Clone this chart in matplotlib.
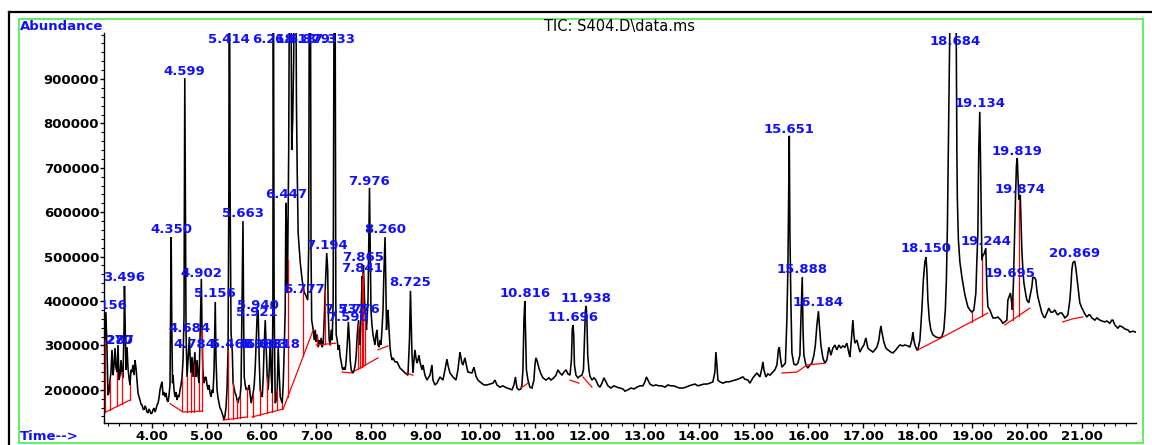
import numpy as np
import matplotlib
matplotlib.use("Agg")
import matplotlib.pyplot as plt
from matplotlib.patches import Rectangle
from matplotlib.lines import Line2D
from matplotlib.ticker import FixedLocator, FuncFormatter

plt.rcParams['font.family'] = ['DejaVu Sans']

# ---------------- data: TIC trace (retention time in min, abundance in thousands) ----------------
rt_min = [
    3.122, 3.140, 3.156, 3.177, 3.195, 3.214, 3.232, 3.250, 3.268, 3.287,
    3.305, 3.323, 3.341, 3.360, 3.378, 3.396, 3.415, 3.433, 3.451, 3.469,
    3.488, 3.496, 3.515, 3.524, 3.543, 3.561, 3.579, 3.597, 3.616, 3.634,
    3.652, 3.671, 3.689, 3.707, 3.725, 3.744, 3.762, 3.780, 3.798, 3.817,
    3.835, 3.853, 3.872, 3.890, 3.908, 3.926, 3.945, 3.963, 3.981, 4.000,
    4.018,
    4.037, 4.055, 4.073, 4.092, 4.110, 4.128, 4.146, 4.165, 4.183, 4.201,
    4.219, 4.238, 4.256, 4.274, 4.293, 4.311, 4.329, 4.340, 4.350, 4.362,
    4.375, 4.384, 4.402, 4.421, 4.439, 4.457, 4.475, 4.494, 4.512, 4.530,
    4.549, 4.567, 4.585, 4.599, 4.614, 4.622, 4.640, 4.658, 4.684, 4.695,
    4.713, 4.731, 4.750, 4.784, 4.795, 4.804, 4.823, 4.841, 4.859, 4.877,
    4.902, 4.914, 4.929, 4.951, 4.969, 4.987, 5.006, 5.024, 5.042, 5.060,
    5.079, 5.097, 5.115, 5.134, 5.156, 5.170, 5.189, 5.207, 5.225, 5.243,
    5.262, 5.280, 5.298, 5.317, 5.335, 5.353, 5.371, 5.390, 5.404, 5.414,
    5.428, 5.445, 5.468, 5.482, 5.500, 5.518, 5.536, 5.555, 5.573, 5.591,
    5.609, 5.628, 5.646, 5.663, 5.677, 5.686, 5.704, 5.723, 5.741, 5.759,
    5.777, 5.795,
    5.813, 5.832, 5.850, 5.868, 5.887, 5.905, 5.921, 5.940, 5.960, 5.978,
    5.996, 6.015, 6.033, 6.051, 6.070, 6.088, 6.106, 6.124, 6.143, 6.161,
    6.179, 6.198, 6.210, 6.218, 6.232, 6.252, 6.271, 6.289, 6.307, 6.326,
    6.344, 6.362, 6.380, 6.399, 6.417, 6.435, 6.447, 6.462, 6.471, 6.481,
    6.499, 6.517, 6.535, 6.554, 6.572, 6.590, 6.605, 6.625, 6.640, 6.654,
    6.672, 6.709, 6.745, 6.782, 6.818, 6.846, 6.864, 6.879, 6.895, 6.907,
    6.919, 6.947, 6.965, 6.984, 7.002, 7.020, 7.038, 7.057, 7.075, 7.093,
    7.112, 7.130, 7.148, 7.166, 7.185, 7.194, 7.212, 7.221, 7.239, 7.258,
    7.276, 7.294, 7.312, 7.333, 7.345, 7.360, 7.367, 7.386, 7.404, 7.422,
    7.441, 7.459, 7.477, 7.495, 7.514, 7.532, 7.550, 7.569, 7.590, 7.614,
    7.623, 7.642, 7.660, 7.678, 7.697, 7.715, 7.733, 7.752, 7.776, 7.788,
    7.806, 7.825, 7.841, 7.852, 7.865, 7.885, 7.903, 7.921, 7.949, 7.963,
    7.976, 7.990, 8.003, 8.021, 8.040, 8.058, 8.076, 8.095, 8.113, 8.131,
    8.150, 8.168, 8.186, 8.204, 8.223, 8.241, 8.260, 8.274, 8.287, 8.296,
    8.314, 8.333, 8.351, 8.369, 8.387, 8.406, 8.442, 8.479, 8.534,
    8.570, 8.625, 8.679, 8.707, 8.725, 8.743, 8.752, 8.771, 8.789, 8.807,
    8.826, 8.844, 8.862, 8.880, 8.899, 8.935, 8.954, 8.990, 9.027, 9.081,
    9.118, 9.136, 9.173, 9.209, 9.264, 9.319, 9.356, 9.392, 9.410, 9.447,
    9.502, 9.557, 9.593, 9.630, 9.667, 9.685, 9.721, 9.758, 9.776, 9.849,
    9.886, 9.922, 9.959, 9.995, 10.068, 10.123, 10.178, 10.233, 10.270, 10.306,
    10.361, 10.416, 10.489, 10.544, 10.580, 10.617, 10.644, 10.672, 10.708, 10.745,
    10.763, 10.781, 10.800, 10.816, 10.829, 10.845, 10.873, 10.909, 10.946, 10.982,
    11.001, 11.019, 11.037, 11.074, 11.110, 11.147, 11.202, 11.257, 11.293, 11.348,
    11.385, 11.421, 11.458, 11.495, 11.531, 11.568, 11.604, 11.641, 11.668, 11.683,
    11.696, 11.710, 11.723, 11.751, 11.787, 11.824, 11.861, 11.888, 11.912, 11.924,
    11.938, 11.951, 11.966, 11.988, 12.006, 12.043, 12.080, 12.116, 12.153, 12.189,
    12.226, 12.262, 12.299, 12.336, 12.390, 12.445, 12.500, 12.555, 12.610, 12.646,
    12.701, 12.756, 12.811, 12.865, 12.920, 12.975, 13.012, 13.039, 13.067, 13.103,
    13.158, 13.213, 13.268, 13.323, 13.377, 13.432, 13.487, 13.542, 13.597, 13.651,
    13.706, 13.761, 13.816, 13.871, 13.926, 13.980, 14.035, 14.090, 14.145, 14.200,
    14.254, 14.291, 14.309, 14.328, 14.346, 14.383, 14.437, 14.492, 14.547, 14.602,
    14.657, 14.712, 14.766, 14.803, 14.840, 14.894, 14.931,
    14.986, 15.059, 15.114, 15.151, 15.169, 15.187, 15.224, 15.260, 15.297, 15.351,
    15.388, 15.425, 15.452, 15.470, 15.489, 15.516, 15.553, 15.580, 15.607, 15.626,
    15.651, 15.662, 15.680, 15.699, 15.735, 15.772, 15.808, 15.845, 15.863, 15.888,
    15.902, 15.918, 15.955, 15.991, 16.028, 16.064, 16.101, 16.128, 16.156, 16.184,
    16.201, 16.229, 16.265, 16.302, 16.338, 16.375, 16.412, 16.448, 16.485, 16.521,
    16.558, 16.594, 16.631, 16.668, 16.704, 16.741, 16.759, 16.786, 16.814, 16.832,
    16.850, 16.887, 16.924, 16.942, 16.978, 17.015, 17.051, 17.088, 17.125, 17.179,
    17.216, 17.253, 17.289, 17.307, 17.326, 17.344, 17.380, 17.417, 17.454, 17.508,
    17.545, 17.600, 17.636, 17.673, 17.728, 17.764, 17.819, 17.856, 17.892, 17.911,
    17.929, 17.947, 17.984, 18.002, 18.039, 18.057, 18.075, 18.102, 18.130, 18.150,
    18.166, 18.185, 18.212, 18.239, 18.276, 18.331, 18.386, 18.441, 18.477, 18.504,
    18.523, 18.541, 18.559, 18.578, 18.600, 18.684, 18.706, 18.715, 18.724, 18.743,
    18.770, 18.807, 18.861, 18.916, 18.953, 18.989, 19.026, 19.062, 19.081, 19.099,
    19.115, 19.134, 19.150, 19.172, 19.190, 19.209, 19.244, 19.263, 19.282, 19.318,
    19.373, 19.428, 19.464, 19.519, 19.556, 19.592, 19.629, 19.647, 19.695, 19.712,
    19.731, 19.749, 19.767, 19.786, 19.804, 19.819, 19.830, 19.848, 19.874, 19.885,
    19.903, 19.922, 19.940, 19.976, 19.995, 20.031, 20.049, 20.086, 20.104, 20.141,
    20.159, 20.177, 20.196, 20.232, 20.269, 20.305, 20.324, 20.360, 20.397, 20.433,
    20.470, 20.506, 20.543, 20.561, 20.598, 20.634, 20.671, 20.689, 20.726, 20.744,
    20.781, 20.799, 20.817, 20.835, 20.869, 20.890, 20.909, 20.945, 20.963, 21.000,
    21.018, 21.055, 21.091, 21.128, 21.146, 21.183, 21.238, 21.274, 21.329, 21.366,
    21.420, 21.457, 21.512, 21.548, 21.567, 21.603, 21.658, 21.695, 21.749, 21.786,
    21.841, 21.877, 21.932, 21.987,
]

abundance_k = [
    188, 312, 375, 290, 188, 195, 222, 240, 290, 233,
    256, 294, 249, 240, 301, 222, 233, 267, 240, 227,
    335, 434, 312, 245, 296, 249, 227, 211, 245, 240,
    256, 233, 267, 249, 222, 193, 184, 177, 168, 166,
    157, 155, 164, 159, 150, 148, 157, 152, 146, 148,
    155,
    159, 150, 157, 166, 170, 182, 200, 211, 218, 188,
    195, 184, 193, 177, 173, 188, 211, 402, 544, 335,
    215, 233, 200, 184, 195, 177, 188, 184, 200, 211,
    229, 267, 364, 902, 515, 328, 229, 267, 319, 278,
    238, 274, 229, 285, 245, 229, 267, 233, 215, 312,
    450, 335, 245, 215, 227, 229, 211, 200, 211, 193,
    184, 200, 193, 245, 398, 267, 200, 182, 170, 159,
    155, 148, 141, 132, 143, 161, 200, 290, 628, 1300,
    628, 328, 285, 215, 204, 193, 188, 177, 170, 182,
    184, 211, 402, 580, 335, 229, 211, 200, 204, 200,
    211, 188,
    170, 184, 193, 211, 251, 312, 364, 380, 267, 200,
    188, 184, 229, 301, 357, 290, 229, 200, 245, 312,
    233, 193, 402, 1300, 402, 170, 177, 200, 296, 233,
    184, 177, 170, 215, 290, 380, 621, 560, 418, 492,
    740, 1300, 1250, 740, 808, 943, 1300, 1300, 853, 695,
    553, 488, 447, 420, 411, 402, 515, 1300, 1250, 515,
    357, 335, 312, 335, 308, 324, 296, 312, 301, 317,
    296, 305, 357, 425, 481, 508, 470, 380, 312, 301,
    335, 312, 402, 1300, 1250, 402, 324, 312, 290, 301,
    274, 263, 249, 245, 251, 245, 267, 301, 353, 301,
    267, 245, 240, 238, 245, 256, 278, 324, 357, 324,
    301, 380, 456, 425, 481, 402, 357, 335, 402, 537,
    655, 515, 380, 346, 324, 312, 301, 324, 335, 301,
    296, 312, 301, 335, 380, 470, 544, 447, 335, 357,
    380, 335, 296, 278, 267, 272, 263, 263, 249,
    245, 238, 233, 312, 423, 335, 283, 238, 267, 290,
    272, 260, 267, 278, 263, 245, 256, 233, 222, 233,
    256, 222, 211, 215, 229, 222, 245, 269, 256, 238,
    229, 222, 245, 285, 260, 256, 272, 249, 240, 238,
    251, 231, 222, 218, 211, 211, 213, 215, 222, 211,
    206, 209, 204, 202, 200, 211, 229, 204, 200, 202,
    211, 245, 357, 400, 335, 245, 222, 206, 204, 222,
    256, 272, 267, 249, 236, 227, 222, 227, 222, 227,
    233, 245, 238, 233, 240, 245, 236, 233, 267, 335,
    346, 324, 256, 233, 227, 231, 233, 245, 335, 380,
    389, 357, 278, 245, 231, 222, 227, 222, 211, 206,
    215, 227, 218, 209, 204, 209, 206, 204, 202, 197,
    200, 204, 202, 206, 209, 209, 218, 229, 222, 213,
    209, 211, 209, 209, 206, 211, 209, 209, 206, 204,
    204, 206, 209, 211, 213, 209, 211, 213, 213, 215,
    218, 240, 285, 256, 222, 218, 215, 218, 218, 220,
    222, 224, 227, 229, 224, 222, 215,
    227, 238, 229, 249, 263, 245, 229, 236, 233, 240,
    245, 256, 290, 296, 272, 251, 256, 260, 357, 477,
    772, 560, 402, 283, 258, 256, 260, 278, 357, 454,
    335, 278, 256, 249, 256, 260, 278, 301, 346, 377,
    346, 301, 272, 260, 267, 296, 278, 294, 301, 290,
    301, 294, 299, 296, 305, 283, 274, 312, 357, 324,
    305, 312, 294, 285, 294, 301, 317, 294, 290, 285,
    290, 296, 312, 330, 344, 330, 308, 294, 290, 285,
    283, 290, 296, 301, 299, 301, 299, 296, 312, 330,
    312, 301, 290, 290, 312, 346, 380, 447, 488, 499,
    470, 402, 357, 335, 324, 319, 317, 319, 335, 380,
    447, 560, 740, 943, 1150, 1300, 943, 740, 628, 538,
    488, 454, 414, 387, 380, 375, 380, 418, 492, 553,
    740, 826, 695, 492, 503, 505, 519, 430, 387, 380,
    362, 362, 364, 357, 350, 353, 357, 402, 418, 402,
    380, 441, 537, 628, 706, 722, 684, 628, 639, 594,
    515, 470, 441, 414, 402, 396, 409, 432, 454, 452,
    447, 425, 409, 391, 373, 364, 362, 373, 384, 375,
    375, 380, 371, 369, 373, 373, 366, 362, 366, 369,
    402, 432, 470, 486, 490, 474, 454, 414, 396, 384,
    380, 371, 364, 369, 369, 362, 357, 362, 357, 355,
    353, 355, 350, 357, 357, 346, 339, 344, 341, 337,
    335, 330, 332, 330,
]

# integration baselines (red) : retention times and abundances (thousands)
baseline_rt = [
    [3.122, 3.597],
    [4.329, 4.567, 4.914],
    [5.298, 5.741],
    [5.832, 6.399],
    [6.399, 6.947],
    [7.002, 7.355],
    [7.477, 7.660],
    [7.715, 8.131],
    [8.131, 8.314],
    [8.643, 8.771],
    [10.745, 10.873],
    [11.641, 11.806],
    [11.879, 12.043],
    [15.516, 15.790, 15.973, 16.302],
    [18.002, 18.459, 19.282],
    [19.592, 20.049],
    [20.652, 20.835, 21.018],
]
baseline_k = [
    [148, 177],
    [169, 150, 152],
    [132, 139],
    [139, 157],
    [157, 335],
    [301, 305],
    [240, 238],
    [243, 272],
    [290, 299],
    [238, 233],
    [204, 215],
    [222, 215],
    [229, 206],
    [238, 240, 256, 260],
    [290, 319, 373],
    [346, 384],
    [353, 360, 364],
]
# peak-split drop lines (red verticals) at these retention times
drop_rt = [3.140, 3.232, 3.360, 3.451, 3.597, 4.549, 4.640, 4.713, 4.768, 4.859,
           4.914, 5.390, 5.482, 5.555, 5.609, 5.741, 5.850, 5.978, 6.106, 6.198,
           6.289, 6.380, 6.481, 6.764, 7.020, 7.166, 7.258, 7.770, 7.806, 7.843,
           7.861, 7.898, 18.989, 19.172, 19.739, 19.848]

# peak labels (retention time, label height in thousands)
label_rt = [3.156, 3.270, 3.287, 3.496, 4.350, 4.599, 4.684, 4.784, 4.902, 5.156,
            5.414, 5.468, 5.663, 5.921, 5.940, 5.983, 6.083, 6.218, 6.318, 6.447,
            6.618, 6.777, 6.879, 7.194, 7.333, 7.537, 7.590, 7.776, 7.841, 7.865,
            7.976, 8.260, 8.725, 10.816, 11.696, 11.938, 15.651, 15.888, 16.184, 18.150,
            18.684, 19.134, 19.244, 19.695, 19.819, 19.874, 20.869]
label_k = [391, 312, 312, 454, 560, 918, 337, 301, 463, 418,
           988, 301, 596, 375, 391, 301, 301, 988, 301, 639,
           988, 425, 988, 524, 988, 380, 362, 380, 474, 497,
           670, 560, 441, 416, 364, 405, 787, 470, 396, 519,
           985, 844, 533, 463, 736, 652, 508]

y_major = [200000, 300000, 400000, 500000, 600000, 700000, 800000, 900000]
x_major = list(range(4, 22))

assert len(rt_min) == len(abundance_k)
rt = np.array(rt_min)
ab = np.array(abundance_k) * 1000.0

W, H = 1152, 445
fig = plt.figure(figsize=(W / 100, H / 100), dpi=100)
fig.patch.set_facecolor('white')
ax = fig.add_axes([104 / W, (H - 423) / H, (1136 - 104) / W, (423 - 33) / H])
ax.set_facecolor('none')

ax.plot(rt, ab, color='black', lw=1.15, solid_joinstyle='miter')

red = '#ff0000'
for brt, bk in zip(baseline_rt, baseline_k):
    ax.plot(brt, np.array(bk) * 1000.0, color=red, lw=0.9)
for t in drop_rt:
    for brt, bk in zip(baseline_rt, baseline_k):
        if brt[0] <= t <= brt[-1]:
            lo = np.interp(t, brt, np.array(bk) * 1000.0)
            hi = np.interp(t, rt, ab)
            ax.plot([t, t], [lo, hi], color=red, lw=0.9)
            break

blue = '#1010ff'
for t, v in zip(label_rt, label_k):
    ax.text(t, v * 1000.0, f"{t:.3f}", color=blue, ha='center', va='center',
            fontsize=9.5, fontweight='bold', clip_on=True)

ax.set_xlim(3.122, 21.99)
ax.set_ylim(125300, 1003600)
for s in ['top', 'right']:
    ax.spines[s].set_visible(False)
for s in ['left', 'bottom']:
    ax.spines[s].set_color('black')
    ax.spines[s].set_linewidth(1.0)

ax.yaxis.set_major_locator(FixedLocator(y_major))
ax.yaxis.set_minor_locator(FixedLocator(np.arange(140000, 1000001, 20000)))
ax.yaxis.set_major_formatter(FuncFormatter(lambda v, p: f"{int(round(v))}"))
ax.xaxis.set_major_locator(FixedLocator(x_major))
ax.xaxis.set_minor_locator(FixedLocator(np.arange(3.2, 22.01, 0.2)))
ax.xaxis.set_major_formatter(FuncFormatter(lambda v, p: f"{v:.2f}"))
ax.tick_params(axis='y', which='major', length=3.0, width=1, pad=0.5,
               labelsize=9.5, direction='out')
ax.tick_params(axis='y', which='minor', length=2.0, width=0.8, direction='out')
ax.tick_params(axis='x', which='major', length=3.5, width=1, pad=1.2,
               labelsize=9.5, direction='out')
ax.tick_params(axis='x', which='minor', length=2.2, width=0.8, direction='out')
for lab in ax.get_xticklabels() + ax.get_yticklabels():
    lab.set_fontweight('bold')

# frames
fig.add_artist(Rectangle((19 / W, (H - 443) / H), (1143 - 19) / W, (443 - 19) / H,
                         transform=fig.transFigure, fill=False,
                         edgecolor='#55ee55', lw=1.3))
fig.add_artist(Line2D([9 / W, 9 / W], [0, 1 - 12 / H], transform=fig.transFigure,
                      color='black', lw=1.6))
fig.add_artist(Line2D([9 / W, 1], [1 - 12 / H, 1 - 12 / H], transform=fig.transFigure,
                      color='black', lw=1.6))

fig.text(20 / W, 1 - 26 / H, "Abundance", color=blue, fontsize=9.5,
         fontweight='bold', ha='left', va='center')
fig.text(20 / W, 1 - 436 / H, "Time-->", color=blue, fontsize=9.5,
         fontweight='bold', ha='left', va='center')
fig.text(620 / W, 1 - 27 / H, "TIC: S404.D\\data.ms", color='black', fontsize=10.5,
         ha='center', va='center')

fig.savefig('out.png', dpi=100, facecolor='white')
